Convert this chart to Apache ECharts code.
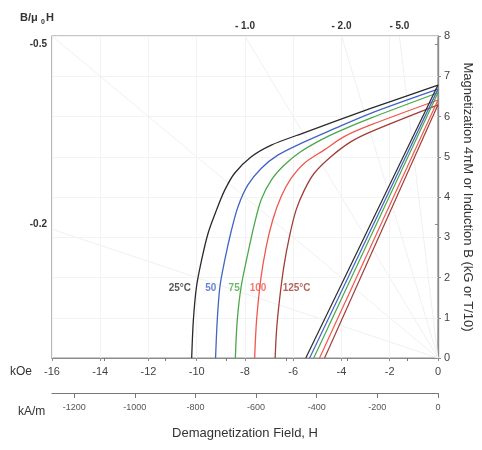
<!DOCTYPE html>
<html>
<head>
<meta charset="utf-8">
<script src="https://cdn.jsdelivr.net/npm/echarts@6/dist/echarts.min.js"></script>
<style>
  html, body { margin: 0; padding: 0; background: #fff; }
  #main { width: 482px; height: 450px; }
</style>
</head>
<body>
<div id="main"></div>
<script>
// intrinsic curves 4πM vs H  [H (kOe), 4πM (kG)]
var j25 = [[0, 6.78], [-2.79, 6.20], [-5.81, 5.54], [-6.91, 5.29], [-7.74, 5.00], [-8.43, 4.59], [-8.84, 4.17], [-9.18, 3.68], [-9.53, 3.10], [-9.80, 2.43], [-10.01, 1.77], [-10.14, 0.94], [-10.21, 0]];
var j50 = [[0, 6.68], [-2.79, 6.08], [-4.44, 5.66], [-5.54, 5.37], [-6.64, 5.04], [-7.33, 4.71], [-7.88, 4.30], [-8.29, 3.76], [-8.56, 3.18], [-8.84, 2.43], [-9.04, 1.77], [-9.15, 0.94], [-9.22, 0]];
var j75 = [[0, 6.59], [-2.79, 5.96], [-4.16, 5.62], [-4.85, 5.42], [-5.68, 5.13], [-6.36, 4.80], [-6.91, 4.42], [-7.33, 3.93], [-7.60, 3.35], [-7.88, 2.60], [-8.16, 1.77], [-8.32, 0.94], [-8.40, 0]];
var j100 = [[0, 6.41], [-2.79, 5.79], [-3.89, 5.50], [-4.71, 5.17], [-5.54, 4.84], [-6.09, 4.46], [-6.50, 4.01], [-6.85, 3.43], [-7.12, 2.77], [-7.35, 1.94], [-7.52, 0.94], [-7.60, 0]];
var j125 = [[0, 6.29], [-2.79, 5.62], [-3.62, 5.37], [-4.44, 5.00], [-5.13, 4.59], [-5.54, 4.17], [-5.88, 3.68], [-6.16, 3.01], [-6.39, 2.27], [-6.57, 1.44], [-6.69, 0.70], [-6.75, 0]];

// normal curves B vs H
var b25 = [[0, 6.78], [-5.48, 0]];
var b50 = [[0, 6.68], [-5.32, 0]];
var b75 = [[0, 6.59], [-5.15, 0]];
var b100 = [[0, 6.41], [-4.91, 0]];
var b125 = [[0, 6.29], [-4.70, 0]];

var temps = ['25°C', '50', '75', '100', '125°C'];
var colors = ['#2a2a2a', '#4264c4', '#4aa84a', '#f0584e', '#a03e38'];
var tempLabelPos = [[-10.70, 1.74], [-9.42, 1.74], [-8.45, 1.74], [-7.46, 1.74], [-5.86, 1.74]];

// permeance (load) lines B/μ0H, end points on the frame
var loadEnds = [[-16, 8], [-16, 3.2], [-8, 8], [-4, 8], [-1.6, 8]];
var topLabelPos = [-8, -4, -1.6];
var topLabels = ['- 1.0', '- 2.0', '- 5.0'];
var leftLabelPos = [7.8, 3.33];
var leftLabels = ['-0.5', '-0.2'];

var kAmTicks = [-1200, -1000, -800, -600, -400, -200, 0];
var kAmMinor = [-1100, -900, -700, -500, -300, -100];
var KAM_PER_KOE = 79.577;

var chart = echarts.init(document.getElementById('main'));
var font = 'Liberation Sans';

var series = [];
loadEnds.forEach(function (p) {
  series.push({
    type: 'line', data: [[0, 0], p], symbol: 'none', silent: true,
    lineStyle: { color: '#f0f0f0', width: 1 }, z: 1
  });
});
[j25, j50, j75, j100, j125].forEach(function (d, i) {
  series.push({
    type: 'line', data: d, symbol: 'none', smooth: 0.3,
    lineStyle: { color: colors[i], width: 1.3 }, z: 3
  });
});
[b25, b50, b75, b100, b125].forEach(function (d, i) {
  series.push({
    type: 'line', data: d, symbol: 'none',
    lineStyle: { color: colors[i], width: 1.2 }, z: 3
  });
});
tempLabelPos.forEach(function (p, i) {
  series.push({
    type: 'scatter', data: [p], symbolSize: 1, silent: true,
    itemStyle: { color: 'transparent' },
    label: {
      show: true, position: 'inside', formatter: temps[i],
      color: colors[i], fontSize: 10, fontWeight: 'bold', fontFamily: font
    },
    z: 5
  });
});

var option = {
  animation: false,
  textStyle: { fontFamily: font },
  grid: {
    left: 52, right: 41, top: 36, bottom: 92,
    show: true, borderColor: '#8c8c8c', borderWidth: 1.2
  },
  xAxis: [
    {
      type: 'value', position: 'bottom', min: -16, max: 0, interval: 2,
      axisLine: { show: true, onZero: false, lineStyle: { color: '#8c8c8c', width: 1.2 } },
      axisTick: { show: true, length: 3, lineStyle: { color: '#8c8c8c' } },
      axisLabel: { color: '#444', fontSize: 11, margin: 8 },
      splitLine: { show: true, lineStyle: { color: '#f3f3f3' } }
    },
    {
      type: 'value', position: 'bottom', offset: 35, min: -16 * KAM_PER_KOE, max: 0,
      axisLine: { show: true, onZero: false, lineStyle: { color: '#777', width: 1.2 } },
      axisTick: { show: true, length: 5, customValues: kAmTicks, lineStyle: { color: '#777' } },
      axisLabel: {
        customValues: kAmTicks, color: '#555', fontSize: 9, margin: 10,
        formatter: function (v) { return String(v); }
      },
      splitLine: { show: false },
      name: 'Demagnetization Field, H', nameLocation: 'middle', nameGap: 34,
      nameTextStyle: { color: '#333', fontSize: 13 }
    },
    {
      type: 'value', position: 'bottom', offset: 35, min: -16 * KAM_PER_KOE, max: 0,
      axisLine: { show: false },
      axisTick: { show: true, length: 3, customValues: kAmMinor, lineStyle: { color: '#777' } },
      axisLabel: { show: false },
      splitLine: { show: false }
    },
    {
      type: 'value', position: 'top', min: -16, max: 0,
      axisLine: { show: false }, axisTick: { show: false },
      axisLabel: {
        customValues: topLabelPos, margin: 5, color: '#333', fontSize: 10, fontWeight: 'bold',
        formatter: function (v) { return topLabels[topLabelPos.indexOf(v)]; }
      },
      splitLine: { show: false }
    }
  ],
  yAxis: [
    {
      type: 'value', position: 'right', min: 0, max: 8, interval: 1,
      axisLine: { show: true, lineStyle: { color: '#8c8c8c', width: 1.2 } },
      axisTick: { show: true, length: 3, lineStyle: { color: '#8c8c8c' } },
      axisLabel: { color: '#444', fontSize: 11, margin: 6 },
      splitLine: { show: true, lineStyle: { color: '#f3f3f3' } },
      name: 'Magnetization 4πM or Induction B (kG or T/10)', nameLocation: 'middle',
      nameRotate: -90, nameGap: 22, nameTextStyle: { color: '#333', fontSize: 13 }
    },
    {
      type: 'value', position: 'left', min: 0, max: 8,
      axisLine: { show: true, lineStyle: { color: '#8c8c8c', width: 1.2 } },
      axisTick: { show: true, length: 3, customValues: leftLabelPos, lineStyle: { color: '#8c8c8c' } },
      axisLabel: {
        customValues: leftLabelPos, margin: 5, color: '#333', fontSize: 10, fontWeight: 'bold',
        formatter: function (v) { return leftLabels[leftLabelPos.indexOf(v)]; }
      },
      splitLine: { show: false }
    }
  ],
  graphic: [
    { type: 'text', x: 10, y: 372, style: { text: 'kOe', font: '12px Liberation Sans', fill: '#333', verticalAlign: 'middle' } },
    { type: 'text', x: 18, y: 412, style: { text: 'kA/m', font: '12px Liberation Sans', fill: '#333', verticalAlign: 'middle' } },
    { type: 'text', x: 20, y: 18, style: { text: 'B/μ', font: 'bold 11px Liberation Sans', fill: '#333', verticalAlign: 'middle' } },
    { type: 'text', x: 41, y: 22, style: { text: '0', font: 'bold 7px Liberation Sans', fill: '#333', verticalAlign: 'middle' } },
    { type: 'text', x: 46, y: 18, style: { text: 'H', font: 'bold 11px Liberation Sans', fill: '#333', verticalAlign: 'middle' } }
  ],
  series: series
};

chart.setOption(option);
</script>
</body>
</html>
